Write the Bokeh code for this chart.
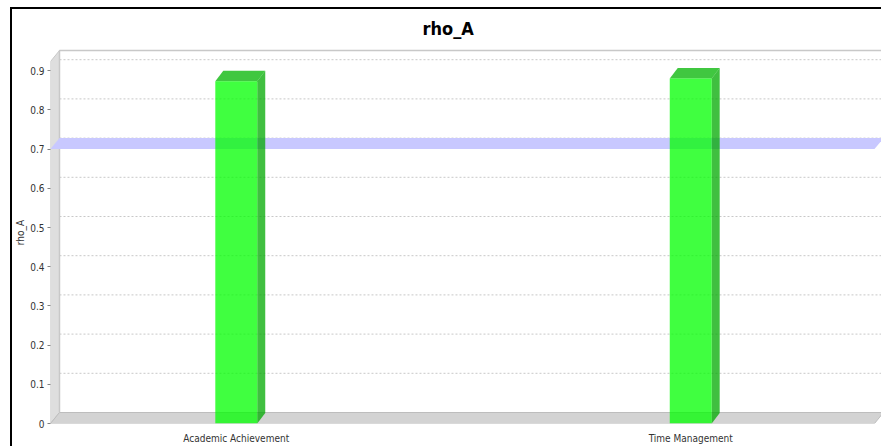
from bokeh.plotting import figure
from bokeh.models import Range1d, FixedTicker
from bokeh.embed import file_html
from bokeh.resources import INLINE

# ---- data ----
categories = ["Academic Achievement", "Time Management"]
rho_a = [0.873, 0.880]
marker_value = 0.7
y_ticks = [0.0, 0.1, 0.2, 0.3, 0.4, 0.5, 0.6, 0.7, 0.8, 0.9]
y_tick_labels = ["0", "0.1", "0.2", "0.3", "0.4", "0.5", "0.6", "0.7", "0.8", "0.9"]

# ---- geometry (styles) ----
W, H = 871, 439
FL, FR, FT, FB = 37, 0, 32, 25
PX_X, PX_Y = 455.0, 392.0
frame_w = W - FL - FR
frame_h = H - FT - FB
x_start = -186.0 / PX_X
x_end = x_start + frame_w / PX_X
y_start = 0.0
y_end = frame_h / PX_Y
wall_top = (frame_h - 9) / PX_Y          # back wall top sits 9px below frame top
wdx, wdy = 9.0 / PX_X, 11.0 / PX_Y       # wall depth
bdx, bdy = 8.0 / PX_X, 10.5 / PX_Y       # bar depth
hw = 21.0 / PX_X                          # bar half width

FONT = "DejaVu Sans Condensed, Liberation Sans, sans-serif"

p = figure(width=W, height=H, output_backend="svg", toolbar_location=None,
           x_range=Range1d(x_start, x_end), y_range=Range1d(y_start, y_end),
           min_border_left=FL, min_border_right=FR, min_border_top=FT,
           min_border_bottom=FB, title="rho_A")
p.margin = (7, 0, 0, 10)
p.styles = {"border-left": "2px solid black", "border-top": "2px solid black"}
p.outline_line_color = None
p.grid.visible = False
p.background_fill_color = "white"
p.border_fill_color = "white"

p.title.align = "left"
p.title.offset = 372
p.title.standoff = 6
p.title.text_font = FONT
p.title.text_font_size = "18px"
p.title.text_font_style = "bold"
p.title.text_color = "black"

# left wall
p.patch([x_start, x_start, x_start + wdx, x_start + wdx],
        [0, wall_top - wdy, wall_top, wdy],
        fill_color="#dedede", line_color="#c8c8c8", line_width=1)
# floor
p.patch([x_start, x_start + wdx, x_end, x_end - wdx],
        [0, wdy, wdy, 0],
        fill_color="#d3d3d3", line_color="#bdbdbd", line_width=1)
# back wall outline
p.line([x_start + wdx, x_start + wdx, x_end], [wdy, wall_top, wall_top],
       line_color="#c8c8c8", line_width=1.5)
# gridlines on back wall
gx0 = [x_start + wdx] * (len(y_ticks) - 1)
gx1 = [x_end] * (len(y_ticks) - 1)
gy = [t + wdy for t in y_ticks[1:]]
p.segment(gx0, gy, gx1, gy, line_color="#c8c8c8", line_width=1, line_dash="2 2")

# 0.7 marker band
p.patch([x_start, x_start + wdx, x_end, x_end - wdx],
        [marker_value, marker_value + wdy, marker_value + wdy, marker_value],
        fill_color="#c8c8ff", line_color=None)

# bars
cx = list(range(len(categories)))
fx = [[c - hw, c + hw, c + hw, c - hw] for c in cx]
fy = [[0, 0, v, v] for v in rho_a]
sx = [[c + hw, c + hw + bdx, c + hw + bdx, c + hw] for c in cx]
sy = [[0, bdy, v + bdy, v] for v in rho_a]
tx = [[c - hw, c - hw + bdx, c + hw + bdx, c + hw] for c in cx]
ty = [[v, v + bdy, v + bdy, v] for v in rho_a]
p.patches(sx, sy, fill_color="#00aa00", fill_alpha=0.75, line_color=None)
p.patches(tx, ty, fill_color="#00b400", fill_alpha=0.75, line_color=None)
p.patches(fx, fy, fill_color="#00ff00", fill_alpha=0.75, line_color=None)

# y axis
ya = p.yaxis[0]
ya.ticker = FixedTicker(ticks=y_ticks)
ya.major_label_overrides = {t: l for t, l in zip(y_ticks, y_tick_labels)}
ya.axis_line_color = None
ya.major_tick_out = 3
ya.major_tick_in = 0
ya.major_tick_line_color = "#808080"
ya.minor_tick_line_color = None
ya.major_label_text_font = FONT
ya.major_label_text_font_size = "10px"
ya.major_label_text_color = "#333333"
ya.major_label_standoff = 3
ya.axis_label = "rho_A"
ya.axis_label_text_font = FONT
ya.axis_label_text_font_size = "10px"
ya.axis_label_text_font_style = "normal"
ya.axis_label_text_color = "#333333"
ya.axis_label_standoff = 1

# x axis
xa = p.xaxis[0]
xa.ticker = FixedTicker(ticks=cx)
xa.major_label_overrides = {c: n for c, n in zip(cx, categories)}
xa.axis_line_color = None
xa.major_tick_line_color = None
xa.major_tick_out = 0
xa.major_tick_in = 0
xa.minor_tick_line_color = None
xa.minor_tick_out = 0
xa.axis_label_standoff = 0
xa.major_label_text_font = FONT
xa.major_label_text_font_size = "10px"
xa.major_label_text_color = "#333333"
xa.major_label_standoff = 9

open("out.html", "w").write(file_html(p, INLINE))
